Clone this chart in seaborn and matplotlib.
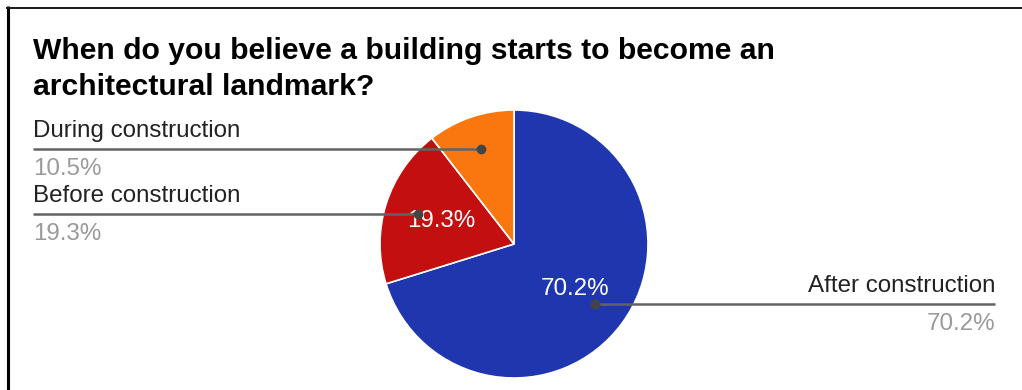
import numpy as np
import matplotlib
matplotlib.use("Agg")
import matplotlib.pyplot as plt
import seaborn as sns

# Survey answers, in clockwise order from 12 o'clock
categories = ["After construction", "Before construction", "During construction"]
shares = [70.2, 19.3, 10.5]
slice_colors = ["#1f36af", "#c30f10", "#fa770f"]
title_lines = ["When do you believe a building starts to become an",
               "architectural landmark?"]

sns.set_theme(style="white")
plt.rcParams["font.family"] = ["Liberation Sans", "DejaVu Sans"]

W, H = 1022, 390
fig = plt.figure(figsize=(W / 100, H / 100), dpi=100)
ax = fig.add_axes([0, 0, 1, 1])


def py(y):
    """Convert a top-down pixel row to data y."""
    return H - y


cx, cy, r = 514, py(244), 134
label_size = 17.4


def show_pct(p):
    return f"{p:.1f}%" if p >= 15 else ""


wedges, _, autotexts = ax.pie(
    shares, colors=slice_colors, startangle=90, counterclock=False,
    center=(cx, cy), radius=r, autopct=show_pct, pctdistance=0.57,
    wedgeprops=dict(edgecolor="white", linewidth=1.2),
    textprops=dict(color="white", fontsize=label_size),
)
ax.set_xlim(0, W)
ax.set_ylim(0, H)
ax.set_aspect("auto")
ax.axis("off")

# Leader lines with callout labels
left_x, right_x = 33, 995
line_c, dot_c = "#636363", "#444444"
for w, name, val in zip(wedges, categories, shares):
    mid = np.deg2rad((w.theta1 + w.theta2) / 2)
    dx, dy = cx + 0.75 * r * np.cos(mid), cy + 0.75 * r * np.sin(mid)
    ax.plot([dx], [dy], "o", color=dot_c, ms=6, zorder=5)
    if dx < cx:
        ax.plot([left_x, dx], [dy, dy], color=line_c, lw=1.8, zorder=4,
                solid_capstyle="butt")
        tx, ha = left_x, "left"
    else:
        ax.plot([dx, right_x], [dy, dy], color=line_c, lw=1.8, zorder=4,
                solid_capstyle="butt")
        tx, ha = right_x, "right"
    ax.text(tx, dy + 12, name, ha=ha, va="baseline", fontsize=label_size,
            color="#222222")
    ax.text(tx, dy - 26, f"{val:.1f}%", ha=ha, va="baseline",
            fontsize=label_size, color="#9a9a9a")

# Title
ax.text(33, py(59), title_lines[0], ha="left", va="baseline", fontsize=21.7,
        fontweight="bold", color="#000000")
ax.text(33, py(95), title_lines[1], ha="left", va="baseline", fontsize=21.7,
        fontweight="bold", color="#000000")

# Frame edges
ax.plot([7.5, 7.5], [py(6), 0], color="#000000", lw=2.2, solid_capstyle="butt")
ax.plot([6, W], [py(7.5), py(7.5)], color="#1a1a1a", lw=1.4,
        solid_capstyle="butt")

fig.savefig("out.png", dpi=100, facecolor="white")
